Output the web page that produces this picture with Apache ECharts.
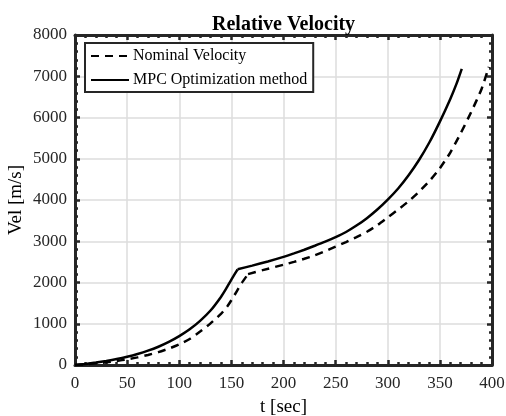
<!DOCTYPE html>
<html>
<head>
<meta charset="utf-8">
<script src="https://cdn.jsdelivr.net/npm/echarts@6/dist/echarts.min.js"></script>
<style>
  html, body { margin: 0; padding: 0; background: #fff; }
  #chart { width: 506px; height: 416px; }
</style>
</head>
<body>
<div id="chart"></div>
<script>
// Time samples (s) and relative velocity (m/s) for each trajectory.
// Each run has a burn-out knee; samples up to and including the knee form the first phase.
const tMpc = [0, 10, 20, 30, 40, 50, 60, 70, 80, 90, 100, 110, 120, 130, 140, 145, 150, 156,
  170, 185, 200, 210, 220, 230, 240, 250, 260, 270, 280, 290, 300, 310, 320, 330, 340, 350, 360, 366, 371];
const vMpc = [0, 27, 59, 98, 144, 200, 267, 347, 443, 560, 700, 866, 1070, 1320, 1650, 1850, 2070, 2320,
  2410, 2510, 2620, 2705, 2795, 2890, 2990, 3100, 3225, 3380, 3560, 3770, 4010, 4280, 4600, 4970, 5400, 5900, 6450, 6820, 7180];
const kneeMpc = 156;

const tNom = [0, 10, 20, 30, 40, 50, 60, 70, 80, 90, 100, 110, 120, 130, 140, 146, 150, 155, 160, 166,
  180, 200, 210, 220, 230, 240, 250, 260, 270, 280, 290, 300, 310, 320, 330, 340, 350, 360, 370, 380, 390, 397];
const vNom = [0, 18, 40, 66, 99, 138, 185, 243, 312, 397, 500, 630, 810, 1010, 1240, 1420, 1570, 1780, 1990, 2203,
  2300, 2430, 2500, 2575, 2660, 2760, 2870, 2980, 3100, 3230, 3390, 3580, 3770, 3970, 4200, 4460, 4770, 5150, 5620, 6130, 6690, 7230];
const kneeNom = 166;

const seriesNames = ['Nominal Velocity', 'MPC Optimization method'];
const xRange = [0, 400, 50];
const yRange = [0, 8000, 1000];

const FONT = 'Liberation Serif';
const FRAME = '#262626';

const pairs = (ts, vs) => ts.map((t, i) => [t, vs[i]]);
const before = (ts, vs, k) => pairs(ts, vs).filter(p => p[0] <= k);
const after = (ts, vs, k) => pairs(ts, vs).filter(p => p[0] >= k);

function frameAxis(extra) {
  return Object.assign({
    axisLine: { show: true, onZero: false, lineStyle: { color: FRAME, width: 3 } },
    axisTick: { show: true, inside: true, length: 5, lineStyle: { color: FRAME, width: 2.5 } },
    minorTick: { show: true, splitNumber: 5, length: 3, lineStyle: { color: FRAME, width: 2.5 } },
    splitLine: { show: false },
    axisLabel: { show: false }
  }, extra);
}

function curve(name, data, dashed) {
  return {
    name, type: 'line', xAxisIndex: 0, yAxisIndex: 0,
    data, symbol: 'none', showSymbol: false,
    smooth: 0.2,
    lineStyle: { color: '#000', width: 2.5, type: dashed ? [8, 6] : 'solid' },
    itemStyle: { color: '#000' },
    z: 3
  };
}

const chart = echarts.init(document.getElementById('chart'), null, { renderer: 'canvas' });

chart.setOption({
  animation: false,
  backgroundColor: '#fff',
  title: {
    text: 'Relative Velocity',
    left: 207, top: 10,
    textStyle: { fontFamily: FONT, fontSize: 20, fontWeight: 'bold', color: '#000' }
  },
  grid: { left: 75, right: 14, top: 35, bottom: 51, containLabel: false, outerBoundsMode: 'none' },
  legend: {
    orient: 'vertical',
    left: 85, top: 43,
    padding: [5, 6, 4, 5],
    itemGap: 8,
    itemWidth: 38, itemHeight: 14,
    borderColor: FRAME, borderWidth: 2,
    backgroundColor: '#fff',
    itemStyle: { opacity: 0 },
    textStyle: { fontFamily: FONT, fontSize: 16, color: '#000', padding: [0, 0, 0, -1] },
    data: seriesNames
  },
  xAxis: [
    frameAxis({
      type: 'value', position: 'bottom',
      min: xRange[0], max: xRange[1], interval: xRange[2],
      name: 't [sec]', nameLocation: 'middle', nameGap: 33, nameMoveOverlap: false,
      nameTextStyle: { fontFamily: FONT, fontSize: 19, color: '#000' },
      axisLabel: { show: true, margin: 10, fontFamily: FONT, fontSize: 17, color: '#262626',
        formatter: v => String(v) },
      splitLine: { show: true, lineStyle: { color: '#dcdcdc', width: 1.5 } }
    }),
    frameAxis({
      type: 'value', position: 'top',
      min: xRange[0], max: xRange[1], interval: xRange[2]
    })
  ],
  yAxis: [
    frameAxis({
      type: 'value', position: 'left',
      min: yRange[0], max: yRange[1], interval: yRange[2],
      name: 'Vel [m/s]', nameLocation: 'middle', nameGap: 49, nameMoveOverlap: false,
      nameTextStyle: { fontFamily: FONT, fontSize: 19, color: '#000' },
      axisLabel: { show: true, margin: 8, fontFamily: FONT, fontSize: 17, color: '#262626',
        formatter: v => String(v) },
      splitLine: { show: true, lineStyle: { color: '#dcdcdc', width: 1.5 } }
    }),
    frameAxis({
      type: 'value', position: 'right',
      min: yRange[0], max: yRange[1], interval: yRange[2]
    })
  ],
  series: [
    curve(seriesNames[0], before(tNom, vNom, kneeNom), true),
    curve(seriesNames[0], after(tNom, vNom, kneeNom), true),
    curve(seriesNames[1], before(tMpc, vMpc, kneeMpc), false),
    curve(seriesNames[1], after(tMpc, vMpc, kneeMpc), false)
  ]
});
</script>
</body>
</html>
